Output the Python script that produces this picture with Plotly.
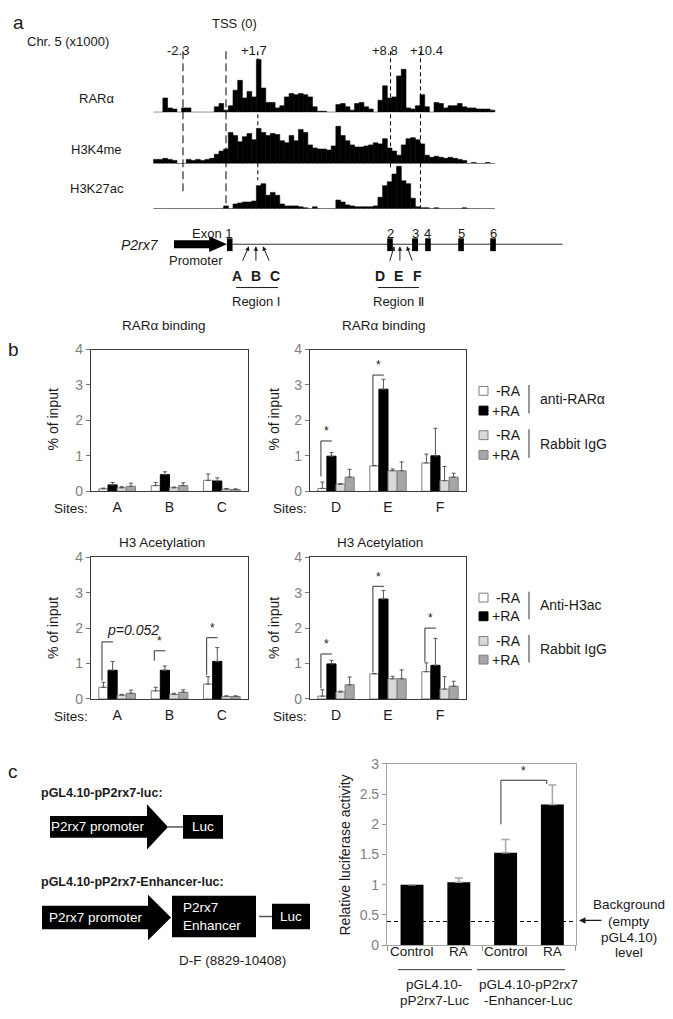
import plotly.graph_objects as go

W, H = 673, 1019
FONT = "Liberation Sans, Arial, Helvetica, sans-serif"
INK = "#1a1a1a"
GREY_TXT = "#808080"
FRAME = "#3a3a3a"


def fx(p):
    return p / W


def fy(p):
    return 1 - p / H


# ======================= DATA =======================
# Panel a: ChIP-seq signal (arbitrary units), one value per 0.25-kb bin starting at -3.75 kb
bin_start_kb = -3.75
bin_step_kb = 0.25
rara_signal = [0, 0, 13, 4, 3, 0, 4, 4, 0, 0,
               0, 0, 0, 5, 8, 2, 6, 20, 29, 13,
               19, 14, 48, 22, 9, 9, 4, 6, 14, 17,
               16, 17, 16, 14, 5, 1, 1, 0, 0, 7,
               8, 5, 2, 8, 9, 5, 3, 0, 11, 24,
               13, 14, 33, 39, 4, 3, 6, 16, 5, 0,
               9, 8, 4, 6, 6, 8, 5, 4, 4, 3,
               3, 3, 2]
h3k4me_signal = [4, 4, 5, 4, 3, 0, 0, 4, 3, 4,
                 3, 4, 5, 9, 12, 14, 30, 27, 21, 26,
                 29, 23, 34, 30, 27, 29, 28, 22, 20, 27,
                 22, 33, 30, 18, 15, 14, 14, 13, 17, 36,
                 27, 22, 18, 16, 16, 17, 18, 20, 19, 24,
                 15, 12, 8, 18, 24, 25, 23, 19, 8, 6,
                 7, 6, 5, 6, 5, 4, 3, 0, 1, 0,
                 0, 1, 0]
h3k27ac_signal = [0, 0, 0, 0, 0, 0, 0, 0, 0, 0,
                  0, 0, 0, 0, 0, 3, 0, 5, 6, 7,
                  7, 8, 24, 26, 14, 17, 14, 5, 3, 3,
                  3, 2, 1, 0, 2, 0, 0, 0, 0, 9,
                  7, 4, 3, 2, 2, 2, 2, 3, 12, 24,
                  28, 36, 44, 29, 26, 11, 2, 1, 1, 0,
                  1, 0, 0, 0, 0, 0, 1, 0, 0, 0,
                  0, 0, 0]
track_names = ["RARα", "H3K4me", "H3K27ac"]
marker_kb = [-2.3, 0.0, 1.7, 8.8, 10.4]
marker_text = ["-2.3", "", "+1.7", "+8.8", "+10.4"]
exon_labels = ["1", "2", "3", "4", "5", "6"]
exon_start_kb = [0.05, 8.62, 9.95, 10.65, 12.42, 14.13]
exon_end_kb = [0.35, 8.92, 10.27, 10.95, 12.72, 14.43]
gene_end_kb = 18.0
promoter_start_kb = -2.78
site_names = ["A", "B", "C", "D", "E", "F"]
site_kb = [1.23, 1.60, 1.97, 9.00, 9.30, 9.67]

# Panel b: ChIP-qPCR (% of input)
sites_I = ["A", "B", "C"]
sites_II = ["D", "E", "F"]
rar_I_minus = [0.07, 0.16, 0.31]
rar_I_plus = [0.18, 0.47, 0.29]
rar_I_igg_minus = [0.10, 0.10, 0.06]
rar_I_igg_plus = [0.14, 0.16, 0.05]
rar_I_minus_err = [0.02, 0.09, 0.18]
rar_I_plus_err = [0.07, 0.08, 0.09]
rar_I_igg_minus_err = [0.03, 0.02, 0.02]
rar_I_igg_plus_err = [0.09, 0.08, 0.02]

rar_II_minus = [0.08, 0.72, 0.80]
rar_II_plus = [0.99, 2.88, 1.00]
rar_II_igg_minus = [0.20, 0.58, 0.30]
rar_II_igg_plus = [0.40, 0.58, 0.40]
rar_II_minus_err = [0.18, 0.01, 0.25]
rar_II_plus_err = [0.10, 0.28, 0.78]
rar_II_igg_minus_err = [0.02, 0.05, 0.40]
rar_II_igg_plus_err = [0.22, 0.25, 0.11]

h3_I_minus = [0.33, 0.23, 0.42]
h3_I_plus = [0.81, 0.81, 1.06]
h3_I_igg_minus = [0.11, 0.13, 0.07]
h3_I_igg_plus = [0.16, 0.19, 0.07]
h3_I_minus_err = [0.14, 0.10, 0.21]
h3_I_plus_err = [0.25, 0.12, 0.39]
h3_I_igg_minus_err = [0.02, 0.03, 0.02]
h3_I_igg_plus_err = [0.09, 0.07, 0.02]

h3_II_minus = [0.08, 0.71, 0.77]
h3_II_plus = [0.99, 2.82, 0.95]
h3_II_igg_minus = [0.20, 0.57, 0.28]
h3_II_igg_plus = [0.40, 0.57, 0.36]
h3_II_minus_err = [0.18, 0.01, 0.25]
h3_II_plus_err = [0.10, 0.24, 0.76]
h3_II_igg_minus_err = [0.02, 0.07, 0.35]
h3_II_igg_plus_err = [0.22, 0.25, 0.14]

# significance brackets: (site index, bracket foot, bracket top, label)
sig_rar_I = []
sig_rar_II = [(0, 0.42, 1.42, "*"), (1, 0.75, 3.28, "*")]
sig_h3_I = [(0, 0.52, 1.61, "<i>p=0.052</i>"), (1, 1.08, 1.36, "*"), (2, 0.68, 1.73, "*")]
sig_h3_II = [(0, 0.30, 1.27, "*"), (1, 0.75, 3.18, "*"), (2, 1.05, 2.00, "*")]

# Panel c: luciferase assay
luc_labels = ["Control", "RA", "Control", "RA"]
luc_vals = [1.00, 1.04, 1.53, 2.33]
luc_err = [0.00, 0.07, 0.22, 0.32]
luc_background = 0.39
luc_groups = [["pGL4.10-", "pP2rx7-Luc"], ["pGL4.10-pP2rx7", "-Enhancer-Luc"]]

# ======================= FIGURE =======================
fig = go.Figure()
shapes = []
annots = []


def ann(text, x, y, size=13, color=INK, xanchor="center", yanchor="middle", **kw):
    d = dict(text=text, x=fx(x), y=fy(y), xref="paper", yref="paper", showarrow=False,
             font=dict(size=size, color=color, family=FONT), xanchor=xanchor, yanchor=yanchor)
    d.update(kw)
    annots.append(d)


def pline(x0, y0, x1, y1, color=INK, width=1, dash="solid"):
    shapes.append(dict(type="line", xref="paper", yref="paper", x0=fx(x0), y0=fy(y0),
                       x1=fx(x1), y1=fy(y1), line=dict(color=color, width=width, dash=dash)))


# ---------- panel a ----------
TSS_PX, KB_PX = 226, 18.7
pos = [bin_start_kb + i * bin_step_kb for i in range(len(rara_signal))]
for vals, ya in [(rara_signal, "y"), (h3k4me_signal, "y2"), (h3k27ac_signal, "y3")]:
    fig.add_trace(go.Bar(x=pos, y=vals, width=bin_step_kb, xaxis="x", yaxis=ya,
                         marker=dict(color="black", line=dict(color="black", width=0.6)),
                         showlegend=False, hoverinfo="skip"))

ann("a", 18, 15, size=19)
ann("TSS (0)", 234, 16, size=13)
ann("Chr. 5 (x1000)", 68, 34, size=13)
marker_ends = [190, 203, 175, 165, 203]
marker_dash = ["8px,4px", "8px,4px", "4px,3px", "4px,3px", "4px,3px"]
marker_shift = [-5, 0, -4, -6, 6]
for kb, txt, yend, dsh, sh in zip(marker_kb, marker_text, marker_ends, marker_dash, marker_shift):
    shapes.append(dict(type="line", xref="x", yref="paper", x0=kb, x1=kb, y0=fy(44), y1=fy(yend),
                       line=dict(color="black", width=1, dash=dsh), layer="above"))
    if txt:
        annots.append(dict(text=txt, x=kb, y=fy(34), xref="x", yref="paper", showarrow=False,
                           xshift=sh, font=dict(size=13, color=INK, family=FONT)))
for name, yc in zip(track_names, [92, 144, 183]):
    ann(name, 97, yc, size=13)

# gene model
GENE_Y = 240
shapes.append(dict(type="line", xref="x", yref="paper", x0=exon_end_kb[0], x1=gene_end_kb,
                   y0=fy(GENE_Y), y1=fy(GENE_Y), line=dict(color="#333", width=1)))
for s, e in zip(exon_start_kb, exon_end_kb):
    shapes.append(dict(type="rect", xref="x", yref="paper", x0=s, x1=e, y0=fy(247), y1=fy(234),
                       fillcolor="black", line=dict(width=0)))
for i, (lab, s, e) in enumerate(zip(exon_labels, exon_start_kb, exon_end_kb)):
    if i == 0:
        annots.append(dict(text="Exon " + lab, x=e + 0.1, y=fy(219), xref="x", yref="paper",
                           xanchor="right", showarrow=False, font=dict(size=13, color=INK, family=FONT)))
    else:
        annots.append(dict(text=lab, x=(s + e) / 2, y=fy(219), xref="x", yref="paper",
                           showarrow=False, font=dict(size=13, color=INK, family=FONT)))
head_kb = exon_start_kb[0] - 0.95
ymid = fy(GENE_Y)
path = (f"M {promoter_start_kb} {fy(GENE_Y - 4)} L {head_kb} {fy(GENE_Y - 4)} L {head_kb} {fy(GENE_Y - 8)} "
        f"L {exon_start_kb[0]} {ymid} L {head_kb} {fy(GENE_Y + 8)} L {head_kb} {fy(GENE_Y + 4)} "
        f"L {promoter_start_kb} {fy(GENE_Y + 4)} Z")
shapes.append(dict(type="path", xref="x", yref="paper", path=path, fillcolor="black",
                   line=dict(width=0)))
ann("<i>P2rx7</i>", 140, 241, size=14)
ann("Promoter", 196, 257, size=13)

tail_dx = [-7, 0, 7, -5, 0, 6]
label_px = [237, 256, 275, 380, 398, 417]
for nm, kb, dx, lx in zip(site_names, site_kb, tail_dx, label_px):
    annots.append(dict(text="", x=kb, y=fy(GENE_Y + 2), xref="x", yref="paper", showarrow=True,
                       arrowhead=2, arrowsize=0.9, arrowwidth=1, arrowcolor=INK, ax=dx, ay=16))
    ann("<b>" + nm + "</b>", lx, 272, size=14)
pline(236, 284, 278, 284, width=1)
pline(378, 284, 419, 284, width=1)
ann("Region I", 256, 298, size=13)
ann("Region Ⅱ", 398, 298, size=13)

# ---------- panel b ----------
fills = ["#ffffff", "#000000", "#d9d9d9", "#a6a6a6"]
edges = ["#7f7f7f", "#000000", "#7f7f7f", "#7f7f7f"]


def chip_chart(xa, ya, series, errs, sig):
    for k in range(4):
        fig.add_trace(go.Bar(
            x=list(range(len(series[k]))), y=series[k], xaxis=xa, yaxis=ya,
            marker=dict(color=fills[k], line=dict(color=edges[k], width=1)),
            error_y=dict(type="data", array=errs[k], arrayminus=[0] * len(errs[k]),
                         symmetric=False, color="#555555", thickness=1, width=2),
            showlegend=False, hoverinfo="skip"))
    for si, yfoot, ytop, lab in sig:
        left, right = si - 0.29, si - 0.08
        shapes.append(dict(type="line", xref=xa, yref=ya, x0=left, x1=left, y0=yfoot, y1=ytop,
                           line=dict(color="#333", width=1)))
        shapes.append(dict(type="line", xref=xa, yref=ya, x0=left, x1=right, y0=ytop, y1=ytop,
                           line=dict(color="#333", width=1)))
        if lab == "*":
            annots.append(dict(text="*", x=(left + right) / 2, y=ytop + 0.02, xref=xa, yref=ya,
                               yanchor="bottom", showarrow=False,
                               font=dict(size=12, color=INK, family=FONT)))
        else:
            annots.append(dict(text=lab, x=left + 0.05, y=ytop + 0.05, xref=xa, yref=ya,
                               xanchor="left", yanchor="bottom", showarrow=False,
                               font=dict(size=14, color=INK, family=FONT)))


chip_chart("x2", "y4", [rar_I_minus, rar_I_plus, rar_I_igg_minus, rar_I_igg_plus],
           [rar_I_minus_err, rar_I_plus_err, rar_I_igg_minus_err, rar_I_igg_plus_err], sig_rar_I)
chip_chart("x3", "y5", [rar_II_minus, rar_II_plus, rar_II_igg_minus, rar_II_igg_plus],
           [rar_II_minus_err, rar_II_plus_err, rar_II_igg_minus_err, rar_II_igg_plus_err], sig_rar_II)
chip_chart("x4", "y6", [h3_I_minus, h3_I_plus, h3_I_igg_minus, h3_I_igg_plus],
           [h3_I_minus_err, h3_I_plus_err, h3_I_igg_minus_err, h3_I_igg_plus_err], sig_h3_I)
chip_chart("x5", "y7", [h3_II_minus, h3_II_plus, h3_II_igg_minus, h3_II_igg_plus],
           [h3_II_minus_err, h3_II_plus_err, h3_II_igg_minus_err, h3_II_igg_plus_err], sig_h3_II)

ann("b", 13, 347, size=19)
ann("RARα binding", 164, 323, size=13.5)
ann("RARα binding", 384, 323, size=13.5)
ann("H3 Acetylation", 162, 543, size=13.5)
ann("H3 Acetylation", 380, 543, size=13.5)
for xx in (53, 274):
    for yy in (418, 630):
        ann("% of input", xx, yy, size=14, textangle=-90)
for xx in (71, 290):
    for yy in (508, 720):
        ann("Sites:", xx, yy, size=13.5)


def legend_block(y_rows, group_labels):
    for (yc, k) in zip(y_rows, [0, 1, 2, 3]):
        shapes.append(dict(type="rect", xref="paper", yref="paper", x0=fx(479), x1=fx(488),
                           y0=fy(yc + 4.5), y1=fy(yc - 4.5), fillcolor=fills[k],
                           line=dict(color=edges[k], width=1)))
        ann(" -RA" if k % 2 == 0 else "+RA", 490, yc, size=14, xanchor="left")
    for j, lab in enumerate(group_labels):
        y0, y1 = y_rows[2 * j] - 6, y_rows[2 * j + 1] + 3
        pline(529, y0, 529, y1, color="#333", width=1)
        ann(lab, 538, (y0 + y1) / 2, size=14, xanchor="left")


legend_block([389, 409, 434, 454], ["anti-RARα", "Rabbit IgG"])
legend_block([599, 618, 643, 662], ["Anti-H3ac", "Rabbit IgG"])

# ---------- panel c (constructs) ----------
ann("c", 13, 776, size=19)
ann("<b>pGL4.10-pP2rx7-luc:</b>", 39, 798, size=12.5, xanchor="left")
ann("<b>pGL4.10-pP2rx7-Enhancer-luc:</b>", 39, 888, size=12.5, xanchor="left")


def ppath(points):
    s = " ".join(("M" if i == 0 else "L") + f" {fx(x)} {fy(y)}" for i, (x, y) in enumerate(points))
    return s + " Z"


def arrow_shape(x0, xh, xt, yc, hb, hh):
    shapes.append(dict(type="path", xref="paper", yref="paper", fillcolor="black", line=dict(width=0),
                       path=ppath([(x0, yc - hb), (xh, yc - hb), (xh, yc - hh), (xt, yc),
                                   (xh, yc + hh), (xh, yc + hb), (x0, yc + hb)])))


def box_shape(x0, x1, y0, y1):
    shapes.append(dict(type="rect", xref="paper", yref="paper", x0=fx(x0), x1=fx(x1),
                       y0=fy(y1), y1=fy(y0), fillcolor="black", line=dict(width=0)))


arrow_shape(50, 147, 168, 832, 11, 23)
pline(168, 832, 183, 832, color="#555", width=1.5)
box_shape(183, 223, 820, 844)
ann("P2rx7 promoter", 98, 832, size=13.5, color="white")
ann("Luc", 203, 832, size=13.5, color="white")

arrow_shape(42, 148, 171, 924, 12, 23)
box_shape(172, 256, 902, 944)
pline(259, 923, 272, 923, color="#555", width=1.5)
box_shape(272, 310, 910, 936)
ann("P2rx7 promoter", 96, 924, size=13.5, color="white")
ann("P2rx7<br>Enhancer", 181, 923, size=13.5, color="white", xanchor="left", align="left")
ann("Luc", 291, 923, size=13.5, color="white")
ann("D-F (8829-10408)", 232, 968, size=13.5)

# ---------- panel c (luciferase chart) ----------
fig.add_trace(go.Bar(
    x=list(range(len(luc_vals))), y=luc_vals, width=0.49, xaxis="x6", yaxis="y8",
    marker=dict(color="black", line=dict(width=0)),
    error_y=dict(type="data", array=luc_err, arrayminus=[0] * len(luc_err), symmetric=False,
                 color="#a6a6a6", thickness=1.5, width=4),
    showlegend=False, hoverinfo="skip"))
shapes.append(dict(type="line", xref="x6", yref="y8", x0=-0.535, x1=3.505, y0=luc_background,
                   y1=luc_background, line=dict(color="black", width=1, dash="4px,3px")))
# bracket RA vs Control (enhancer construct)
shapes.append(dict(type="line", xref="x6", yref="y8", x0=1.9, x1=1.9, y0=2.0, y1=2.73,
                   line=dict(color="#333", width=1)))
shapes.append(dict(type="line", xref="x6", yref="y8", x0=1.9, x1=2.88, y0=2.73, y1=2.73,
                   line=dict(color="#333", width=1)))
shapes.append(dict(type="line", xref="x6", yref="y8", x0=2.88, x1=2.88, y0=2.73, y1=2.67,
                   line=dict(color="#333", width=1)))
annots.append(dict(text="*", x=2.39, y=2.74, xref="x6", yref="y8", yanchor="bottom",
                   showarrow=False, font=dict(size=12, color=INK, family=FONT)))
for i, lab in enumerate(luc_labels):
    annots.append(dict(text=lab, x=i, y=fy(968), xref="x6", yref="paper", showarrow=False,
                       font=dict(size=13.5, color=INK, family=FONT)))
pline(398, 977, 472, 977, color="#333", width=1)
pline(477, 977, 565, 977, color="#333", width=1)
for (l1, l2), xc in zip(luc_groups, [434, 528]):
    ann(l1, xc, 992, size=13.5)
    ann(l2, xc, 1008, size=13.5)
ann("Relative luciferase activity", 345, 860, size=14, textangle=-90)
for txt, yy in zip(["Background", "(empty", "pGL4.10)", "level"], [911, 928, 944, 960]):
    ann(txt, 629, yy, size=13.5)
annots.append(dict(text="", x=fx(579), y=fy(927), xref="paper", yref="paper", showarrow=True,
                   arrowhead=2, arrowsize=1, arrowwidth=1.3, arrowcolor=INK, ax=24, ay=0))

# ======================= LAYOUT =======================
hidden = dict(visible=False, showgrid=False, zeroline=False)


def chip_x(x0, x1, ticks, anchor):
    return dict(domain=[fx(x0), fx(x1)], range=[-0.5, 2.5], tickvals=[0, 1, 2], ticktext=ticks,
                showline=True, mirror=True, linecolor=FRAME, linewidth=1.2, ticks="",
                tickfont=dict(size=14, color=INK, family=FONT), showgrid=False, zeroline=False,
                ticklabelstandoff=3, anchor=anchor)


def chip_y(yb, yt, anchor):
    return dict(domain=[fy(yb), fy(yt)], range=[0, 4], tickvals=[0, 1, 2, 3, 4],
                showline=True, mirror=True, linecolor=FRAME, linewidth=1.2, ticks="outside",
                ticklen=4, tickcolor="#777", tickfont=dict(size=14, color=GREY_TXT, family=FONT),
                showgrid=False, zeroline=False, anchor=anchor)


fig.update_layout(
    width=W, height=H, autosize=False,
    margin=dict(l=0, r=0, t=0, b=0),
    paper_bgcolor="white", plot_bgcolor="rgba(0,0,0,0)",
    font=dict(family=FONT, color=INK),
    barmode="group", bargap=0.3, bargroupgap=0,
    showlegend=False,
    xaxis=dict(domain=[0, 1], range=[-TSS_PX / KB_PX, (W - TSS_PX) / KB_PX], anchor="y", **hidden),
    yaxis=dict(domain=[fy(106), fy(50)], range=[0, 50], anchor="x", **hidden),
    yaxis2=dict(domain=[fy(158), fy(116)], range=[0, 40], anchor="x", **hidden),
    yaxis3=dict(domain=[fy(204), fy(155)], range=[0, 50], anchor="x", **hidden),
    xaxis2=chip_x(91, 248, sites_I, "y4"),
    yaxis4=chip_y(491, 347, "x2"),
    xaxis3=chip_x(310, 466, sites_II, "y5"),
    yaxis5=chip_y(491, 347, "x3"),
    xaxis4=chip_x(91, 248, sites_I, "y6"),
    yaxis6=chip_y(702, 558, "x4"),
    xaxis5=chip_x(310, 466, sites_II, "y7"),
    yaxis7=chip_y(702, 558, "x5"),
    xaxis6=dict(domain=[fx(387), fx(576)], range=[-0.535, 3.505], tickvals=[-0.53, 1.5, 3.5],
                showticklabels=False, ticks="outside", ticklen=5, tickcolor="#999",
                showline=True, mirror=True, linecolor="#a6a6a6", linewidth=1.2,
                showgrid=False, zeroline=False, anchor="y8"),
    yaxis8=dict(domain=[fy(952), fy(768)], range=[0, 3], dtick=0.5, ticks="outside", ticklen=4,
                tickcolor="#999", tickfont=dict(size=14, color=GREY_TXT, family=FONT),
                showline=True, mirror=True, linecolor="#a6a6a6", linewidth=1.2,
                showgrid=False, zeroline=False, anchor="x6"),
    shapes=shapes,
    annotations=annots,
)

fig.write_html("out.html", config={"displayModeBar": False},
               post_script="document.body.style.margin='0px';document.body.style.overflow='hidden';")
